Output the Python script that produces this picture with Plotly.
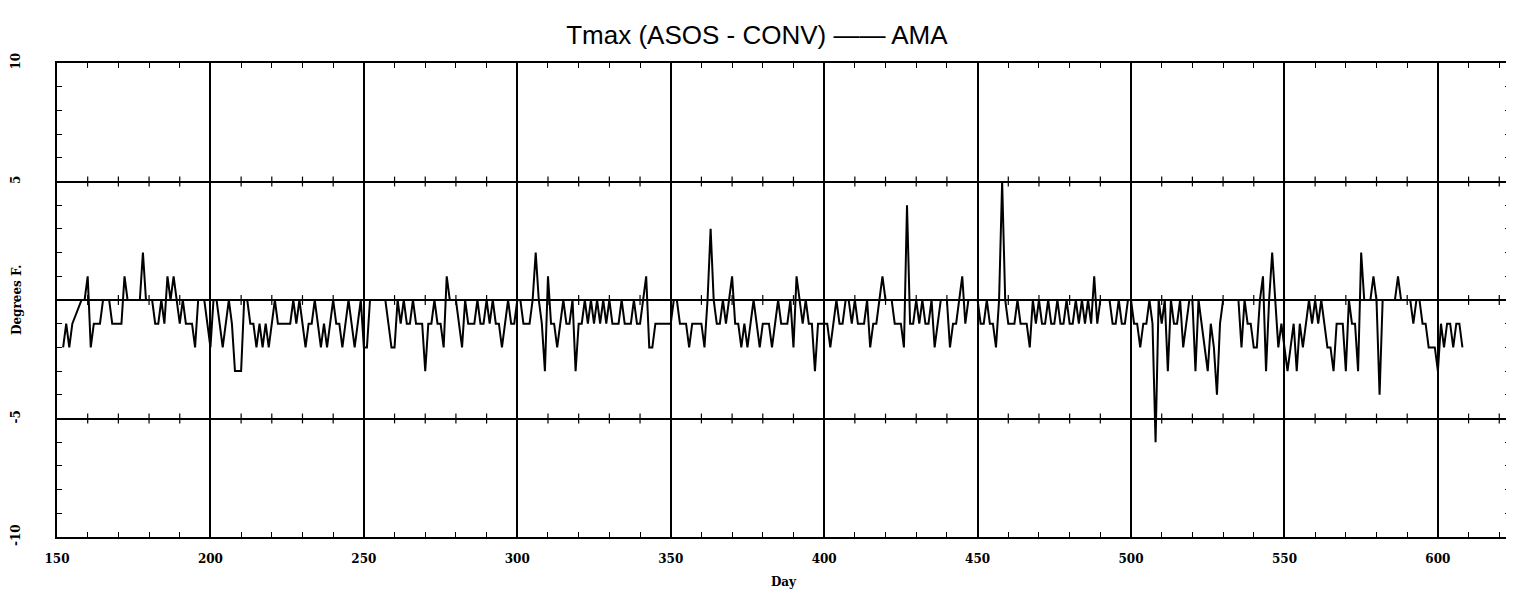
import plotly.graph_objects as go

# Day numbers and Tmax difference (ASOS - CONV), degrees F
days = [152, 153, 154, 155, 158, 159, 160, 161, 162, 163, 164, 165, 166, 167, 168, 169, 170, 171, 172, 173,
        174, 175, 176, 177, 178, 179, 180, 181, 182, 183, 184, 185, 186, 187, 188, 189, 190, 191, 192, 193,
        194, 195, 196, 197, 198, 199, 200, 201, 202, 203, 204, 205, 206, 207, 208, 209, 210, 211, 212, 213,
        214, 215, 216, 217, 218, 219, 220, 221, 222, 223, 224, 225, 226, 227, 228, 229, 230, 231, 232, 233,
        234, 235, 236, 237, 238, 239, 240, 241, 242, 243, 244, 245, 246, 247, 248, 249, 250, 251, 252, 253,
        254, 255, 256, 257, 258, 259, 260, 261, 262, 263, 264, 265, 266, 267, 268, 269, 270, 271, 272, 273,
        274, 275, 276, 277, 278, 279, 280, 281, 282, 283, 284, 285, 286, 287, 288, 289, 290, 291, 292, 293,
        294, 295, 296, 297, 298, 299, 300, 301, 302, 303, 304, 305, 306, 307, 308, 309, 310, 311, 312, 313,
        314, 315, 316, 317, 318, 319, 320, 321, 322, 323, 324, 325, 326, 327, 328, 329, 330, 331, 332, 333,
        334, 335, 336, 337, 338, 339, 340, 341, 342, 343, 344, 345, 346, 347, 348, 349, 350, 351, 352, 353,
        354, 355, 356, 357, 358, 359, 360, 361, 362, 363, 364, 365, 366, 367, 368, 369, 370, 371, 372, 373,
        374, 375, 376, 377, 378, 379, 380, 381, 382, 383, 384, 385, 386, 387, 388, 389, 390, 391, 392, 393,
        394, 395, 396, 397, 398, 399, 400, 401, 402, 403, 404, 405, 406, 407, 408, 409, 410, 411, 412, 413,
        414, 415, 416, 417, 418, 419, 420, 421, 422, 423, 424, 425, 426, 427, 428, 429, 430, 431, 432, 433,
        434, 435, 436, 437, 438, 439, 440, 441, 442, 443, 444, 445, 446, 447, 448, 449, 450, 451, 452, 453,
        454, 455, 456, 457, 458, 459, 460, 461, 462, 463, 464, 465, 466, 467, 468, 469, 470, 471, 472, 473,
        474, 475, 476, 477, 478, 479, 480, 481, 482, 483, 484, 485, 486, 487, 488, 489, 490, 491, 492, 493,
        494, 495, 496, 497, 498, 499, 500, 501, 502, 503, 504, 505, 506, 507, 508, 509, 510, 511, 512, 513,
        514, 515, 516, 517, 518, 519, 520, 521, 522, 523, 524, 525, 526, 527, 528, 529, 530, 531, 532, 533,
        534, 535, 536, 537, 538, 539, 540, 541, 542, 543, 544, 545, 546, 547, 548, 549, 550, 551, 552, 553,
        554, 555, 556, 557, 558, 559, 560, 561, 562, 563, 564, 565, 566, 567, 568, 569, 570, 571, 572, 573,
        574, 575, 576, 577, 578, 579, 580, 581, 582, 583, 584, 585, 586, 587, 588, 589, 590, 591, 592, 593,
        594, 595, 596, 597, 598, 599, 600, 601, 602, 603, 604, 605, 606, 607, 608]

tmax_diff = [-2, -1, -2, -1, 0, 0, 1, -2, -1, -1, -1, 0, 0, 0, -1, -1, -1, -1, 1, 0,
             0, 0, 0, 0, 2, 0, 0, 0, -1, -1, 0, -1, 1, 0, 1, 0, -1, 0, -1, -1,
             -1, -2, 0, 0, 0, -1, -2, 0, 0, -1, -2, -1, 0, -1, -3, -3, -3, 0, 0, -1,
             -1, -2, -1, -2, -1, -2, -1, 0, -1, -1, -1, -1, -1, 0, -1, 0, -1, -2, -1, -1,
             0, -1, -2, -1, -2, -1, 0, -1, -1, -2, -1, 0, -1, -2, -1, 0, -2, -2, 0, 0,
             0, 0, 0, 0, -1, -2, -2, 0, -1, 0, -1, -1, 0, -1, -1, -1, -3, -1, -1, 0,
             -1, -1, -2, 1, 0, 0, 0, -1, -2, 0, -1, -1, -1, 0, -1, -1, 0, -1, 0, -1,
             -1, -2, -1, 0, -1, -1, 0, 0, -1, -1, -1, 0, 2, 0, -1, -3, 1, -1, -1, -2,
             -1, 0, -1, -1, 0, -3, -1, -1, 0, -1, 0, -1, 0, -1, 0, -1, 0, -1, -1, -1,
             0, -1, -1, -1, 0, -1, -1, 0, 1, -2, -2, -1, -1, -1, -1, -1, -1, 0, 0, -1,
             -1, -1, -2, -1, -1, -1, -1, -2, 0, 3, 0, -1, -1, 0, -1, 0, 1, -1, -1, -2,
             -1, -2, -1, 0, -1, -2, -1, -1, -1, -2, -1, 0, -1, -1, -1, 0, -2, 1, 0, -1,
             0, -1, -1, -3, -1, -1, -1, -1, -2, -1, 0, -1, -1, 0, 0, -1, 0, -1, -1, -1,
             0, -2, -1, -1, 0, 1, 0, 0, 0, -1, -1, -1, -2, 4, -1, -1, 0, -1, 0, -1,
             -1, 0, -2, -1, 0, 0, 0, -2, -1, -1, 0, 1, -1, 0, 0, 0, 0, -1, -1, 0,
             -1, -1, -2, 0, 5, 0, -1, -1, -1, 0, -1, -1, -1, -2, 0, -1, 0, -1, -1, 0,
             -1, -1, 0, -1, -1, 0, -1, -1, 0, -1, 0, -1, 0, -1, 1, -1, 0, 0, 0, 0,
             -1, -1, 0, -1, -1, 0, 0, -1, -1, -2, -1, -1, 0, -1, -6, 0, -1, 0, -3, 0,
             -1, -1, 0, -2, -1, 0, 0, -3, 0, -1, -2, -3, -1, -2, -4, -1, 0, 0, 0, 0,
             0, 0, -2, 0, -1, -1, -2, -2, 0, 1, -3, 0, 2, 0, -2, -1, -2, -3, -2, -1,
             -3, -1, -2, -1, 0, -1, 0, -1, 0, -1, -2, -2, -3, -1, -1, -1, -3, 0, -1, -1,
             -3, 2, 0, 0, 0, 1, 0, -4, 0, 0, 0, 0, 0, 1, 0, 0, 0, 0, -1, 0,
             0, -1, -1, -2, -2, -2, -3, -1, -2, -1, -1, -2, -1, -1, -2]

x_ticks = [150, 200, 250, 300, 350, 400, 450, 500, 550, 600]
y_ticks = [-10, -5, 0, 5, 10]
y_tick_text = ["-10", "-5", "", "5", "10"]
x_range = [150, 623.5]
y_range = [-10, 10]
minor_x_step = 10
inner_grid_levels = [-5, 0, 5]

serif_bold = dict(family="DejaVu Serif", size=12, color="black", weight="bold")

fig = go.Figure()

# small tick marks drawn on the inner horizontal grid lines every 10 days
tick_x = list(range(x_ticks[0] + minor_x_step, int(x_range[1]) + 1, minor_x_step))
for lvl in inner_grid_levels:
    fig.add_trace(go.Scatter(
        x=tick_x, y=[lvl] * len(tick_x), mode="markers",
        marker=dict(symbol="line-ns", size=7, line=dict(color="black", width=1.2)),
        showlegend=False, hoverinfo="skip",
    ))

fig.add_trace(go.Scatter(
    x=days, y=tmax_diff, mode="lines",
    line=dict(color="black", width=2),
    showlegend=False, hoverinfo="x+y",
))

# page body adds an 8px offset; size/margins compensate so the plot sits at
# x 57..1510, y 63..537 of the 1514x589 window
fig.update_layout(
    width=1506, height=581,
    paper_bgcolor="white", plot_bgcolor="white",
    margin=dict(l=49, r=4, t=55, b=52),
    title=dict(text="Tmax (ASOS - CONV) —— AMA", x=0.4973, xanchor="center", y=0.953, yanchor="middle",
               font=dict(family="Liberation Sans", size=26, color="black")),
    xaxis=dict(
        range=x_range, tickvals=x_ticks, tickfont=serif_bold, automargin=False,
        showgrid=True, gridcolor="black", gridwidth=2,
        showline=True, linecolor="black", linewidth=2, mirror="ticks",
        ticks="inside", ticklen=6, tickwidth=1, tickcolor="black",
        minor=dict(dtick=minor_x_step, tick0=150, ticks="inside", ticklen=5, tickcolor="black", showgrid=False),
        zeroline=False, ticklabelstandoff=10,
        title=dict(text="Day", font=serif_bold, standoff=14),
    ),
    yaxis=dict(
        range=y_range, tickvals=y_ticks, ticktext=y_tick_text, tickangle=-90, tickfont=serif_bold,
        automargin=False,
        showgrid=True, gridcolor="black", gridwidth=1.5,
        showline=True, linecolor="black", linewidth=2, mirror="ticks",
        ticks="inside", ticklen=6, tickwidth=1, tickcolor="black",
        minor=dict(dtick=1, ticks="inside", ticklen=5, tickcolor="black", showgrid=False),
        zeroline=False, ticklabelstandoff=30,
    ),
    annotations=[dict(text="Degrees F.", xref="paper", yref="paper", x=0, y=0.5, xshift=-40,
                      xanchor="center", yanchor="middle", textangle=-90, showarrow=False,
                      font=serif_bold)],
)

fig.write_html("out.html")
